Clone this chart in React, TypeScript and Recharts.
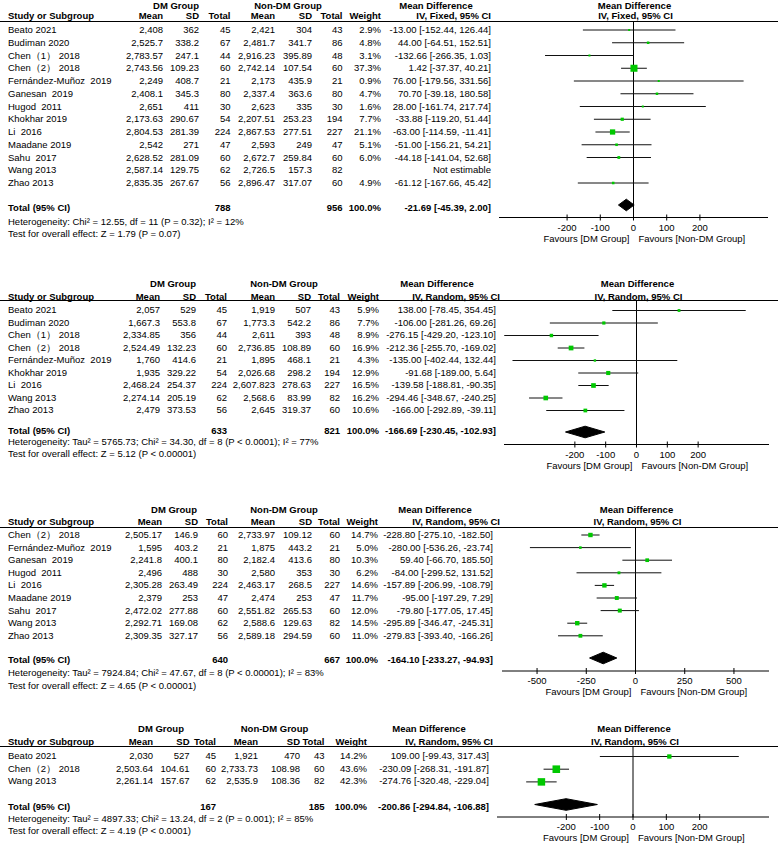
import React from "react";
import { ComposedChart, ReferenceLine, Scatter, XAxis, YAxis } from "recharts";

const FONT = '"Liberation Sans", Arial, Helvetica, sans-serif';
const FS = 9.5;
const GREEN = "#00c800";

// ---- panel 1 (IV, Fixed)
const p1Studies = [
  "Beato 2021", "Budiman 2020", "Chen（1） 2018", "Chen（2） 2018", "Fernández-Muñoz  2019",
  "Ganesan  2019", "Hugod  2011", "Khokhar 2019", "Li  2016", "Maadane 2019", "Sahu  2017",
  "Wang 2013", "Zhao 2013",
];
const p1DmMean = ["2,408", "2,525.7", "2,783.57", "2,743.56", "2,249", "2,408.1", "2,651", "2,173.63", "2,804.53", "2,542", "2,628.52", "2,587.14", "2,835.35"];
const p1DmSd = ["362", "338.2", "247.1", "109.23", "408.7", "345.3", "411", "290.67", "281.39", "271", "281.09", "129.75", "267.67"];
const p1DmN = [45, 67, 44, 60, 21, 80, 30, 54, 224, 47, 60, 62, 56];
const p1NonMean = ["2,421", "2,481.7", "2,916.23", "2,742.14", "2,173", "2,337.4", "2,623", "2,207.51", "2,867.53", "2,593", "2,672.7", "2,726.5", "2,896.47"];
const p1NonSd = ["304", "341.7", "395.89", "107.54", "435.9", "363.6", "335", "253.23", "277.51", "249", "259.84", "157.3", "317.07"];
const p1NonN = [43, 86, 48, 60, 21, 80, 30, 194, 227, 47, 60, 82, 60];
const p1Weight = [2.9, 4.8, 3.1, 37.3, 0.9, 4.7, 1.6, 7.7, 21.1, 5.1, 6.0, null, 4.9];
const p1Md = [-13.0, 44.0, -132.66, 1.42, 76.0, 70.7, 28.0, -33.88, -63.0, -51.0, -44.18, null, -61.12];
const p1Lo = [-152.44, -64.51, -266.35, -37.37, -179.56, -39.18, -161.74, -119.2, -114.59, -156.21, -141.04, null, -167.66];
const p1Hi = [126.44, 152.51, 1.03, 40.21, 331.56, 180.58, 217.74, 51.44, -11.41, 54.21, 52.68, null, 45.42];
const p1Total = [788, 956];
const p1Pooled = [-21.69, -45.39, 2.0];
const p1Het = "Heterogeneity: Chi² = 12.55, df = 11 (P = 0.32); I² = 12%";
const p1Test = "Test for overall effect: Z = 1.79 (P = 0.07)";

// ---- panel 2
const p2Studies = [
  "Beato 2021", "Budiman 2020", "Chen（1） 2018", "Chen（2） 2018", "Fernández-Muñoz  2019",
  "Khokhar 2019", "Li  2016", "Wang 2013", "Zhao 2013",
];
const p2DmMean = ["2,057", "1,667.3", "2,334.85", "2,524.49", "1,760", "1,935", "2,468.24", "2,274.14", "2,479"];
const p2DmSd = ["529", "553.8", "356", "132.23", "414.6", "329.22", "254.37", "205.19", "373.53"];
const p2DmN = [45, 67, 44, 60, 21, 54, 224, 62, 56];
const p2NonMean = ["1,919", "1,773.3", "2,611", "2,736.85", "1,895", "2,026.68", "2,607.823", "2,568.6", "2,645"];
const p2NonSd = ["507", "542.2", "393", "108.89", "468.1", "298.2", "278.63", "83.99", "319.37"];
const p2NonN = [43, 86, 48, 60, 21, 194, 227, 82, 60];
const p2Weight = [5.9, 7.7, 8.9, 16.9, 4.3, 12.9, 16.5, 16.2, 10.6];
const p2Md = [138.0, -106.0, -276.15, -212.36, -135.0, -91.68, -139.58, -294.46, -166.0];
const p2Lo = [-78.45, -281.26, -429.2, -255.7, -402.44, -189.0, -188.81, -348.67, -292.89];
const p2Hi = [354.45, 69.26, -123.1, -169.02, 132.44, 5.64, -90.35, -240.25, -39.11];
const p2Total = [633, 821];
const p2Pooled = [-166.69, -230.45, -102.93];
const p2Het = "Heterogeneity: Tau² = 5765.73; Chi² = 34.30, df = 8 (P < 0.0001); I² = 77%";
const p2Test = "Test for overall effect: Z = 5.12 (P < 0.00001)";

// ---- panel 3
const p3Studies = [
  "Chen（2） 2018", "Fernández-Muñoz  2019", "Ganesan  2019", "Hugod  2011", "Li  2016",
  "Maadane 2019", "Sahu  2017", "Wang 2013", "Zhao 2013",
];
const p3DmMean = ["2,505.17", "1,595", "2,241.8", "2,496", "2,305.28", "2,379", "2,472.02", "2,292.71", "2,309.35"];
const p3DmSd = ["146.9", "403.2", "400.1", "488", "263.49", "253", "277.88", "169.08", "327.17"];
const p3DmN = [60, 21, 80, 30, 224, 47, 60, 62, 56];
const p3NonMean = ["2,733.97", "1,875", "2,182.4", "2,580", "2,463.17", "2,474", "2,551.82", "2,588.6", "2,589.18"];
const p3NonSd = ["109.12", "443.2", "413.6", "353", "268.5", "253", "265.53", "129.63", "294.59"];
const p3NonN = [60, 21, 80, 30, 227, 47, 60, 82, 60];
const p3Weight = [14.7, 5.0, 10.3, 6.2, 14.6, 11.7, 12.0, 14.5, 11.0];
const p3Md = [-228.8, -280.0, 59.4, -84.0, -157.89, -95.0, -79.8, -295.89, -279.83];
const p3Lo = [-275.1, -536.26, -66.7, -299.52, -206.99, -197.29, -177.05, -346.47, -393.4];
const p3Hi = [-182.5, -23.74, 185.5, 131.52, -108.79, 7.29, 17.45, -245.31, -166.26];
const p3Total = [640, 667];
const p3Pooled = [-164.1, -233.27, -94.93];
const p3Het = "Heterogeneity: Tau² = 7924.84; Chi² = 47.67, df = 8 (P < 0.00001); I² = 83%";
const p3Test = "Test for overall effect: Z = 4.65 (P < 0.00001)";

// ---- panel 4
const p4Studies = ["Beato 2021", "Chen（2） 2018", "Wang 2013"];
const p4DmMean = ["2,030", "2,503.64", "2,261.14"];
const p4DmSd = ["527", "104.61", "157.67"];
const p4DmN = [45, 60, 62];
const p4NonMean = ["1,921", "2,733.73", "2,535.9"];
const p4NonSd = ["470", "108.98", "108.36"];
const p4NonN = [43, 60, 82];
const p4Weight = [14.2, 43.6, 42.3];
const p4Md = [109.0, -230.09, -274.76];
const p4Lo = [-99.43, -268.31, -320.48];
const p4Hi = [317.43, -191.87, -229.04];
const p4Total = [167, 185];
const p4Pooled = [-200.86, -294.84, -106.88];
const p4Het = "Heterogeneity: Tau² = 4897.33; Chi² = 13.24, df = 2 (P = 0.001); I² = 85%";
const p4Test = "Test for overall effect: Z = 4.19 (P < 0.0001)";

const ticksSmall = [-200, -100, 0, 100, 200];
const ticksWide = [-500, -250, 0, 250, 500];

type Layout = {
  groupY: number; headY: number; lineY: number; firstY: number; rowH: number;
  totalY: number; diamondY: number; hetY: number; testY: number; axisY: number; favY: number;
  plotL: number; plotR: number; span: number;
  cols: number[]; ciR: number; ivR: number; mdC: number; dmC: number; nonC: number;
};

type Panel = {
  studies: string[]; dmMean: string[]; dmSd: string[]; dmN: number[];
  nonMean: string[]; nonSd: string[]; nonN: number[];
  weight: (number | null)[]; md: (number | null)[]; lo: (number | null)[]; hi: (number | null)[];
  total: number[]; pooled: number[]; het: string; test: string; method: string; ticks: number[];
  lay: Layout;
};

const panels: Panel[] = [
  {
    studies: p1Studies, dmMean: p1DmMean, dmSd: p1DmSd, dmN: p1DmN, nonMean: p1NonMean, nonSd: p1NonSd, nonN: p1NonN,
    weight: p1Weight, md: p1Md, lo: p1Lo, hi: p1Hi, total: p1Total, pooled: p1Pooled, het: p1Het, test: p1Test,
    method: "IV, Fixed, 95% CI", ticks: ticksSmall,
    lay: {
      groupY: 5.5, headY: 16, lineY: 21, firstY: 30, rowH: 12.75, totalY: 207.5, diamondY: 205, hetY: 222, testY: 234,
      axisY: 217.5, favY: 238.5, plotL: 499, plotR: 768, span: 405,
      cols: [163, 199, 230.5, 275, 312, 342.5, 381], ciR: 491, ivR: 491, mdC: 436, dmC: 176, nonC: 288,
    },
  },
  {
    studies: p2Studies, dmMean: p2DmMean, dmSd: p2DmSd, dmN: p2DmN, nonMean: p2NonMean, nonSd: p2NonSd, nonN: p2NonN,
    weight: p2Weight, md: p2Md, lo: p2Lo, hi: p2Hi, total: p2Total, pooled: p2Pooled, het: p2Het, test: p2Test,
    method: "IV, Random, 95% CI", ticks: ticksSmall,
    lay: {
      groupY: 284, headY: 297, lineY: 300.5, firstY: 310, rowH: 12.5, totalY: 431, diamondY: 431.5, hetY: 442, testY: 453.5,
      axisY: 444, favY: 465.5, plotL: 504, plotR: 769, span: 430,
      cols: [160, 196, 227, 275, 311, 340, 379], ciR: 496, ivR: 500, mdC: 437, dmC: 173, nonC: 284,
    },
  },
  {
    studies: p3Studies, dmMean: p3DmMean, dmSd: p3DmSd, dmN: p3DmN, nonMean: p3NonMean, nonSd: p3NonSd, nonN: p3NonN,
    weight: p3Weight, md: p3Md, lo: p3Lo, hi: p3Hi, total: p3Total, pooled: p3Pooled, het: p3Het, test: p3Test,
    method: "IV, Random, 95% CI", ticks: ticksWide,
    lay: {
      groupY: 510, headY: 522, lineY: 527, firstY: 535, rowH: 12.6, totalY: 660, diamondY: 658, hetY: 673, testY: 686,
      axisY: 671, favY: 692, plotL: 502, plotR: 769, span: 678,
      cols: [162, 198, 228, 275, 312, 340, 378], ciR: 493, ivR: 500, mdC: 435, dmC: 174, nonC: 284,
    },
  },
  {
    studies: p4Studies, dmMean: p4DmMean, dmSd: p4DmSd, dmN: p4DmN, nonMean: p4NonMean, nonSd: p4NonSd, nonN: p4NonN,
    weight: p4Weight, md: p4Md, lo: p4Lo, hi: p4Hi, total: p4Total, pooled: p4Pooled, het: p4Het, test: p4Test,
    method: "IV, Random, 95% CI", ticks: ticksSmall,
    lay: {
      groupY: 729, headY: 742, lineY: 746.5, firstY: 756, rowH: 12.7, totalY: 807, diamondY: 804, hetY: 819, testY: 831,
      axisY: 816.5, favY: 837.5, plotL: 497, plotR: 769, span: 408,
      cols: [153, 189.5, 216, 258, 300, 324.5, 367], ciR: 489, ivR: 493, mdC: 429, dmC: 161, nonC: 274.5,
    },
  },
];

function T({ x, y, a = "l", b = false, children }: { x: number; y: number; a?: "l" | "r" | "c"; b?: boolean; children: React.ReactNode }) {
  const tx = a === "r" ? "-100%" : a === "c" ? "-50%" : "0";
  return (
    <div
      style={{
        position: "absolute", left: x, top: y, transform: `translate(${tx}, -50%)`,
        fontWeight: b ? "bold" : "normal", whiteSpace: "pre", lineHeight: 1,
      }}
    >
      {children}
    </div>
  );
}

const ci = (m: number, l: number, h: number) => `${m.toFixed(2)} [${l.toFixed(2)}, ${h.toFixed(2)}]`;

function Square(props: any) {
  const { cx, cy, payload } = props;
  const s = Math.max(2, 1.15 * Math.sqrt(payload.w));
  return <rect x={cx - s / 2} y={cy - s / 2} width={s} height={s} fill={GREEN} />;
}

const NoDot = () => <g />;

function Forest({ p }: { p: Panel }) {
  const L = p.lay;
  const toRow = (py: number) => (py - L.firstY) / L.rowH;
  const rowY = (i: number) => L.firstY + i * L.rowH;
  const c = L.cols;

  const points = p.md
    .map((m, i) => (m == null ? null : { x: m, y: i, lo: p.lo[i] as number, hi: p.hi[i] as number, w: p.weight[i] as number }))
    .filter((d): d is { x: number; y: number; lo: number; hi: number; w: number } => d !== null);

  const [pm, pl, ph] = p.pooled;
  const ty = toRow(L.diamondY);
  const hh = 5.8 / L.rowH;
  const diamond = [
    { x: pl, y: ty }, { x: pm, y: ty - hh }, { x: ph, y: ty }, { x: pm, y: ty + hh }, { x: pl, y: ty },
  ];

  const chartW = L.plotR - L.plotL;
  const axisH = 16;
  const axisLocal = L.axisY - L.lineY;
  const chartH = axisLocal + axisH;
  const zeroX = L.plotL + chartW / 2;

  const tick = (props: any) => {
    const { x, payload } = props;
    return (
      <g>
        <line x1={x} x2={x} y1={axisLocal - 3} y2={axisLocal + 3} stroke="#000" />
        <text x={x} y={axisLocal + 13.2} textAnchor="middle" fontSize={FS} fontFamily={FONT} fill="#000">
          {payload.value}
        </text>
      </g>
    );
  };

  return (
    <>
      <T x={L.dmC} y={L.groupY} a="c" b>DM Group</T>
      <T x={L.nonC} y={L.groupY} a="c" b>Non-DM Group</T>
      <T x={L.mdC} y={L.groupY} a="c" b>Mean Difference</T>
      <T x={zeroX + 1} y={L.groupY} a="c" b>Mean Difference</T>

      <T x={8} y={L.headY} b>Study or Subgroup</T>
      <T x={c[0]} y={L.headY} a="r" b>Mean</T>
      <T x={c[1]} y={L.headY} a="r" b>SD</T>
      <T x={c[2]} y={L.headY} a="r" b>Total</T>
      <T x={c[3]} y={L.headY} a="r" b>Mean</T>
      <T x={c[4]} y={L.headY} a="r" b>SD</T>
      <T x={c[5]} y={L.headY} a="r" b>Total</T>
      <T x={c[6]} y={L.headY} a="r" b>Weight</T>
      <T x={L.ivR} y={L.headY} a="r" b>{p.method}</T>
      <T x={zeroX + 2} y={L.headY} a="c" b>{p.method}</T>

      <div style={{ position: "absolute", left: 0, top: L.lineY - 0.5, width: 778, height: 1, background: "#000" }} />

      {p.studies.map((s, i) => {
        const y = rowY(i);
        const m = p.md[i];
        return (
          <React.Fragment key={s + i}>
            <T x={8} y={y}>{s}</T>
            <T x={c[0]} y={y} a="r">{p.dmMean[i]}</T>
            <T x={c[1]} y={y} a="r">{p.dmSd[i]}</T>
            <T x={c[2]} y={y} a="r">{p.dmN[i]}</T>
            <T x={c[3]} y={y} a="r">{p.nonMean[i]}</T>
            <T x={c[4]} y={y} a="r">{p.nonSd[i]}</T>
            <T x={c[5]} y={y} a="r">{p.nonN[i]}</T>
            <T x={c[6]} y={y} a="r">{p.weight[i] == null ? "" : `${(p.weight[i] as number).toFixed(1)}%`}</T>
            <T x={L.ciR} y={y} a="r">
              {m == null ? "Not estimable" : ci(m, p.lo[i] as number, p.hi[i] as number)}
            </T>
          </React.Fragment>
        );
      })}

      <T x={8} y={L.totalY} b>Total (95% CI)</T>
      <T x={c[2]} y={L.totalY} a="r" b>{p.total[0]}</T>
      <T x={c[5]} y={L.totalY} a="r" b>{p.total[1]}</T>
      <T x={c[6]} y={L.totalY} a="r" b>100.0%</T>
      <T x={L.ciR} y={L.totalY} a="r" b>{ci(pm, pl, ph)}</T>
      <T x={8} y={L.hetY}>{p.het}</T>
      <T x={8} y={L.testY}>{p.test}</T>

      <div style={{ position: "absolute", left: L.plotL, top: L.lineY }}>
        <ComposedChart width={chartW} height={chartH} margin={{ top: 0, right: 0, bottom: 0, left: 0 }}>
          <XAxis
            type="number"
            dataKey="x"
            domain={[-L.span, L.span]}
            ticks={p.ticks}
            interval={0}
            allowDataOverflow
            height={axisH}
            stroke="#000"
            tickLine={false}
            tick={tick}
          />
          <YAxis type="number" dataKey="y" domain={[toRow(L.lineY), toRow(L.axisY)]} reversed hide allowDataOverflow />
          <ReferenceLine x={0} stroke="#000" strokeWidth={1} />
          {points.map((d) => (
            <Scatter
              key={`ci${d.y}`}
              data={[{ x: d.lo, y: d.y }, { x: d.hi, y: d.y }]}
              line={{ stroke: "#111", strokeWidth: 1 }}
              shape={NoDot}
              isAnimationActive={false}
            />
          ))}
          <Scatter data={points} shape={Square} isAnimationActive={false} />
          <Scatter
            data={diamond}
            line={{ stroke: "#000", fill: "#000", strokeWidth: 1 }}
            shape={NoDot}
            isAnimationActive={false}
          />
        </ComposedChart>
      </div>

      <T x={zeroX - 4} y={L.favY} a="r">Favours [DM Group]</T>
      <T x={zeroX + 5} y={L.favY}>Favours [Non-DM Group]</T>
    </>
  );
}

export default function App() {
  return (
    <div
      style={{
        position: "absolute", left: 0, top: 0, width: 778, height: 844, background: "#fff",
        fontFamily: FONT, fontSize: FS, color: "#000", overflow: "hidden",
      }}
    >
      {panels.map((p, i) => (
        <Forest key={i} p={p} />
      ))}
    </div>
  );
}
